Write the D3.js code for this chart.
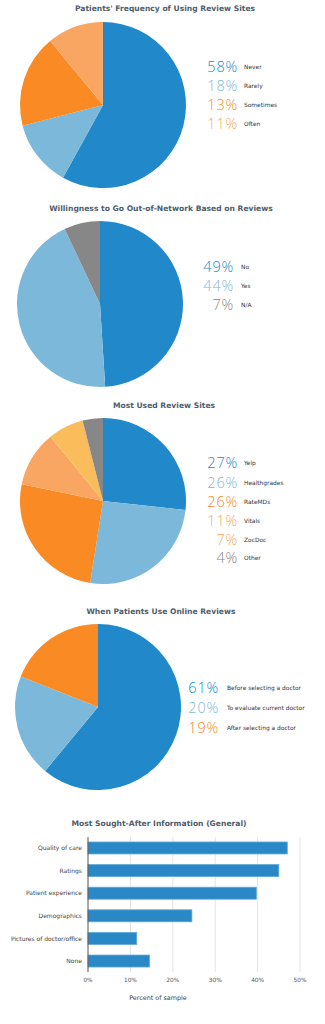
<!DOCTYPE html>
<html>
<head>
<meta charset="utf-8">
<script src="https://cdn.jsdelivr.net/npm/d3@7"></script>
<style>
  html, body { margin: 0; padding: 0; background: #ffffff; }
  svg { display: block; }
</style>
</head>
<body>
<svg id="chart" width="325" height="1024"></svg>
<script>
// ---------- DATA ----------
const freqLabels = ["Never", "Rarely", "Sometimes", "Often"];
const freqLegendValues = [58, 18, 13, 11];
const freqSliceValues = [58, 13, 18, 11];

const oonLabels = ["No", "Yes", "N/A"];
const oonValues = [49, 44, 7];

const siteLabels = ["Yelp", "Healthgrades", "RateMDs", "Vitals", "ZocDoc", "Other"];
const siteValues = [27, 26, 26, 11, 7, 4];

const whenLabels = ["Before selecting a doctor", "To evaluate current doctor", "After selecting a doctor"];
const whenValues = [61, 20, 19];

const infoCategories = ["Quality of care", "Ratings", "Patient experience", "Demographics", "Pictures of doctor/office", "None"];
const infoValues = [47, 45, 39.7, 24.5, 11.5, 14.5];
const infoTicks = [0, 10, 20, 30, 40, 50];

// ---------- STYLE ----------
const palette = {
  blue: "#2189c9", lightBlue: "#7cb8d9", orange: "#f98a24",
  lightOrange: "#f8a662", yellow: "#fbbc5b", gray: "#868786"
};
const titleColor = "#4e5d6c";
const titleFont = "'DejaVu Sans', Verdana, sans-serif";

const svg = d3.select("#chart");

function title(text, x, y) {
  svg.append("text")
    .attr("x", x).attr("y", y + 3)
    .attr("text-anchor", "middle")
    .attr("font-family", titleFont)
    .attr("font-weight", "bold")
    .attr("font-size", 7.6)
    .attr("fill", titleColor)
    .text(text);
}

function pieChart(cfg) {
  const g = svg.append("g").attr("transform", `translate(${cfg.cx},${cfg.cy})`);
  const pie = d3.pie().sort(null).value(d => d);
  const arc = d3.arc().innerRadius(0).outerRadius(cfg.r);
  g.selectAll("path").data(pie(cfg.slices)).join("path")
    .attr("d", arc)
    .attr("fill", (d, i) => cfg.sliceColors[i]);

  const lg = svg.append("g");
  cfg.legendValues.forEach((v, i) => {
    const yy = cfg.rows[i];
    lg.append("text")
      .attr("x", cfg.pctX).attr("y", yy + 5)
      .attr("text-anchor", "end")
      .attr("font-family", "'Open Sans', sans-serif")
      .attr("font-weight", 300)
      .attr("font-size", 14.5)
      .attr("letter-spacing", 0.8)
      .attr("fill", cfg.legendColors[i])
      .text(v + "%");
    lg.append("text")
      .attr("x", cfg.labelX).attr("y", yy + 2)
      .attr("font-family", "'DejaVu Sans', sans-serif")
      .attr("font-size", 5.9)
      .attr("fill", "#333")
      .text(cfg.labels[i]);
  });
}

// Chart 1
title("Patients' Frequency of Using Review Sites", 165, 8);
pieChart({
  cx: 103, cy: 105, r: 83,
  slices: freqSliceValues,
  sliceColors: [palette.blue, palette.lightBlue, palette.orange, palette.lightOrange],
  legendValues: freqLegendValues,
  legendColors: [palette.blue, palette.lightBlue, palette.orange, palette.lightOrange],
  labels: freqLabels,
  pctX: 238, labelX: 244, rows: [67, 86, 105, 124]
});

// Chart 2
title("Willingness to Go Out-of-Network Based on Reviews", 161, 208);
pieChart({
  cx: 100, cy: 304, r: 83,
  slices: oonValues,
  sliceColors: [palette.blue, palette.lightBlue, palette.gray],
  legendValues: oonValues,
  legendColors: [palette.blue, palette.lightBlue, palette.gray],
  labels: oonLabels,
  pctX: 234, labelX: 241, rows: [267, 286, 305]
});

// Chart 3
title("Most Used Review Sites", 164, 405);
const siteColors = [palette.blue, palette.lightBlue, palette.orange, palette.lightOrange, palette.yellow, palette.gray];
pieChart({
  cx: 103, cy: 501, r: 83,
  slices: siteValues,
  sliceColors: siteColors,
  legendValues: siteValues,
  legendColors: [palette.blue, palette.lightBlue, palette.orange, palette.lightOrange, palette.lightOrange, palette.gray],
  labels: siteLabels,
  pctX: 238, labelX: 244, rows: [463, 483, 502, 521, 540, 558]
});

// Chart 4
title("When Patients Use Online Reviews", 161, 611);
pieChart({
  cx: 98, cy: 707, r: 83,
  slices: whenValues,
  sliceColors: [palette.blue, palette.lightBlue, palette.orange],
  legendValues: whenValues,
  legendColors: [palette.blue, palette.lightBlue, palette.orange],
  labels: whenLabels,
  pctX: 219, labelX: 227, rows: [688, 708, 728]
});

// Chart 5 - bar chart
title("Most Sought-After Information (General)", 159, 823);
const plotTop = 837, plotBottom = 972;
const xScale = d3.scaleLinear().domain([0, 50]).range([88, 300]);
const yScale = d3.scaleBand().domain(infoCategories).range([plotTop, plotBottom])
  .paddingInner(0.47).paddingOuter(0.22);

const bg = svg.append("g");
bg.selectAll("line.grid").data(infoTicks.slice(1)).join("line")
  .attr("class", "grid")
  .attr("x1", d => xScale(d)).attr("x2", d => xScale(d))
  .attr("y1", plotTop).attr("y2", plotBottom)
  .attr("stroke", "#e4e4e4").attr("stroke-width", 1);

bg.selectAll("rect").data(infoValues).join("rect")
  .attr("x", xScale(0))
  .attr("y", (d, i) => yScale(infoCategories[i]))
  .attr("width", d => xScale(d) - xScale(0))
  .attr("height", yScale.bandwidth())
  .attr("fill", "#2a88c6")
  .attr("stroke", "#62a9d8")
  .attr("stroke-width", 0.8);

bg.append("line")
  .attr("x1", xScale(0)).attr("x2", xScale(0))
  .attr("y1", plotTop).attr("y2", plotBottom)
  .attr("stroke", "#555").attr("stroke-width", 1);

bg.selectAll("text.cat").data(infoCategories).join("text")
  .attr("class", "cat")
  .attr("x", 82)
  .attr("y", d => yScale(d) + yScale.bandwidth() / 2 + 2.2)
  .attr("text-anchor", "end")
  .attr("font-family", "'DejaVu Sans', sans-serif")
  .attr("font-size", 6)
  .attr("fill", "#444")
  .text(d => d);

bg.selectAll("text.tick").data(infoTicks).join("text")
  .attr("class", "tick")
  .attr("x", d => xScale(d))
  .attr("y", 981.5)
  .attr("text-anchor", "middle")
  .attr("font-family", "'DejaVu Sans', sans-serif")
  .attr("font-size", 5.8)
  .attr("fill", "#555")
  .text(d => d + "%");

bg.append("text")
  .attr("x", 158).attr("y", 999.5)
  .attr("text-anchor", "middle")
  .attr("font-family", "'DejaVu Sans', sans-serif")
  .attr("font-size", 6.4)
  .attr("fill", "#444")
  .text("Percent of sample");
</script>
</body>
</html>
